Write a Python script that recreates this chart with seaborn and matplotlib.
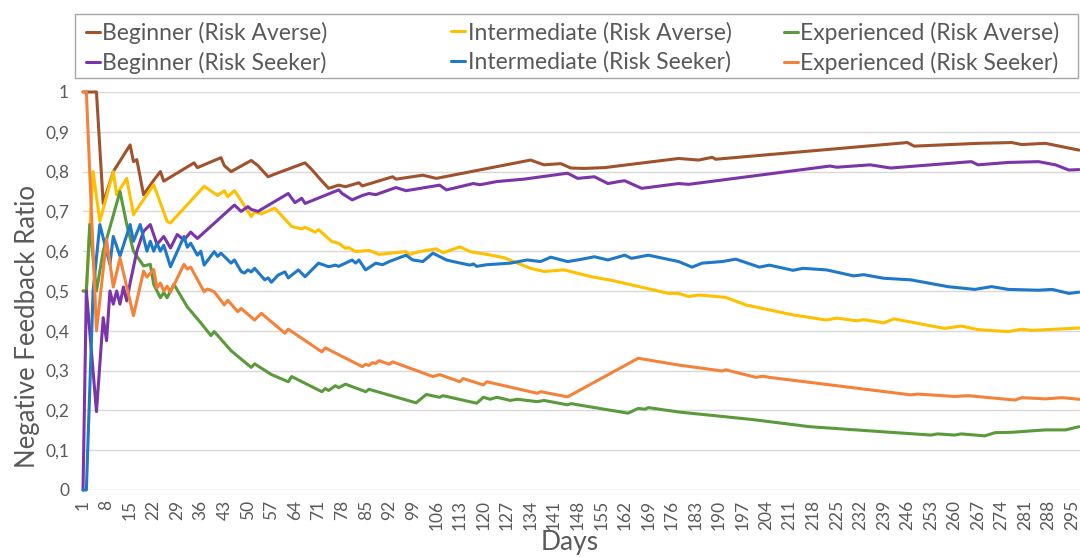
import matplotlib
matplotlib.use("Agg")
import matplotlib.pyplot as plt
from matplotlib.lines import Line2D
from matplotlib.patches import Rectangle
import pandas as pd
import seaborn as sns

# Beginner (Risk Averse)
beg_ra_days = [1, 5, 7, 10, 15, 16, 17, 19, 22, 24, 25, 34, 35, 42, 43, 45, 51, 53, 56, 59,
               67, 69, 72, 74, 77, 79, 83, 84, 93, 94, 102, 106, 134, 135, 138, 143, 146, 150,
               156, 178, 184, 188, 189, 246, 248, 267, 277, 280, 287, 290, 297]
beg_ra_vals = [1.0, 1.0, 0.72, 0.80, 0.867, 0.825, 0.83, 0.742, 0.778, 0.80, 0.776, 0.822, 0.81,
               0.835, 0.815, 0.80, 0.828, 0.815, 0.787, 0.797, 0.822, 0.805, 0.776, 0.758, 0.766,
               0.762, 0.772, 0.764, 0.787, 0.781, 0.791, 0.783, 0.829, 0.826, 0.817, 0.82, 0.809,
               0.808, 0.81, 0.833, 0.829, 0.836, 0.831, 0.873, 0.864, 0.871, 0.873, 0.868, 0.871,
               0.866, 0.854]

# Intermediate (Risk Averse)
int_ra_days = [1, 2, 4, 6, 10, 11, 14, 16, 22, 26, 27, 37, 41, 43, 44, 46, 47, 51, 52, 54, 58,
               59, 63, 66, 67, 70, 71, 75, 77, 79, 80, 82, 86, 89, 97, 98, 101, 106, 108, 113,
               116, 121, 126, 134, 138, 144, 152, 158, 175, 178, 181, 184, 192, 198, 212, 222,
               225, 231, 233, 239, 242, 257, 262, 267, 276, 280, 283, 297]
int_ra_vals = [0.5, 0.5, 0.8, 0.675, 0.8, 0.742, 0.783, 0.692, 0.767, 0.675, 0.671, 0.763, 0.74,
               0.752, 0.737, 0.752, 0.74, 0.687, 0.698, 0.694, 0.708, 0.699, 0.662, 0.656, 0.66,
               0.648, 0.654, 0.624, 0.62, 0.607, 0.609, 0.599, 0.602, 0.592, 0.599, 0.592, 0.599,
               0.606, 0.596, 0.611, 0.599, 0.592, 0.584, 0.557, 0.549, 0.553, 0.536, 0.527, 0.494,
               0.494, 0.486, 0.49, 0.484, 0.465, 0.44, 0.427, 0.432, 0.425, 0.428, 0.42, 0.43,
               0.406, 0.412, 0.403, 0.398, 0.404, 0.401, 0.407]

# Experienced (Risk Averse)
exp_ra_days = [1, 2, 3, 5, 7, 12, 14, 16, 19, 21, 22, 24, 25, 26, 28, 32, 36, 39, 40, 45, 51,
               52, 57, 62, 63, 72, 73, 74, 76, 77, 79, 85, 86, 100, 103, 107, 108, 118, 120, 122,
               124, 128, 130, 136, 138, 145, 146, 163, 166, 168, 169, 178, 200, 217, 253, 255,
               260, 262, 269, 272, 277, 287, 293, 297]
exp_ra_vals = [0.5, 0.5, 0.667, 0.5, 0.6, 0.75, 0.667, 0.6, 0.563, 0.567, 0.517, 0.483, 0.496,
               0.483, 0.517, 0.46, 0.42, 0.388, 0.398, 0.35, 0.308, 0.317, 0.29, 0.272, 0.285,
               0.247, 0.255, 0.25, 0.262, 0.257, 0.266, 0.247, 0.253, 0.219, 0.24, 0.233, 0.237,
               0.218, 0.233, 0.228, 0.233, 0.225, 0.228, 0.222, 0.225, 0.214, 0.217, 0.193, 0.205,
               0.203, 0.207, 0.196, 0.177, 0.159, 0.138, 0.141, 0.138, 0.141, 0.136, 0.144, 0.145,
               0.151, 0.151, 0.159]

# Beginner (Risk Seeker)
beg_rs_days = [1, 2, 5, 7, 8, 9, 10, 11, 12, 13, 14, 15, 17, 19, 21, 23, 25, 27, 29, 31, 33, 35,
               46, 48, 50, 51, 53, 62, 64, 66, 67, 77, 78, 81, 84, 86, 88, 94, 97, 107, 109, 117,
               119, 124, 132, 145, 148, 153, 157, 161, 162, 167, 169, 178, 181, 223, 225, 235,
               241, 265, 267, 276, 285, 290, 294, 297]
beg_rs_vals = [0.0, 0.5, 0.197, 0.433, 0.375, 0.5, 0.467, 0.5, 0.467, 0.51, 0.475, 0.52, 0.6,
               0.65, 0.667, 0.617, 0.637, 0.608, 0.642, 0.628, 0.648, 0.632, 0.716, 0.70, 0.712,
               0.705, 0.70, 0.745, 0.722, 0.733, 0.72, 0.754, 0.745, 0.729, 0.74, 0.745, 0.742,
               0.76, 0.752, 0.766, 0.754, 0.77, 0.767, 0.775, 0.781, 0.796, 0.783, 0.787, 0.77,
               0.776, 0.777, 0.758, 0.76, 0.77, 0.768, 0.814, 0.811, 0.817, 0.809, 0.825, 0.817,
               0.823, 0.825, 0.817, 0.804, 0.805]

# Intermediate (Risk Seeker)
int_rs_days = [1, 2, 4, 6, 9, 10, 12, 15, 16, 18, 20, 21, 22, 23, 24, 25, 27, 31, 32, 33, 35, 36,
               37, 40, 41, 42, 45, 46, 48, 49, 50, 51, 52, 55, 56, 57, 59, 61, 62, 65, 67, 71, 74,
               76, 77, 81, 82, 83, 85, 88, 90, 92, 97, 99, 102, 105, 109, 111, 116, 117, 118, 121,
               128, 133, 137, 140, 145, 148, 153, 157, 162, 164, 169, 178, 182, 185, 191, 195,
               202, 205, 212, 215, 222, 230, 233, 239, 247, 258, 266, 271, 276, 285, 289, 294, 297]
int_rs_vals = [0.0, 0.0, 0.5, 0.667, 0.567, 0.637, 0.588, 0.667, 0.625, 0.667, 0.6, 0.625, 0.6,
               0.62, 0.6, 0.615, 0.561, 0.637, 0.61, 0.62, 0.59, 0.6, 0.565, 0.599, 0.587, 0.595,
               0.57, 0.578, 0.549, 0.545, 0.553, 0.548, 0.557, 0.528, 0.533, 0.522, 0.54, 0.548,
               0.533, 0.553, 0.536, 0.57, 0.561, 0.565, 0.562, 0.578, 0.57, 0.578, 0.553, 0.57,
               0.566, 0.574, 0.59, 0.578, 0.574, 0.595, 0.578, 0.574, 0.565, 0.568, 0.562, 0.566,
               0.57, 0.578, 0.574, 0.585, 0.574, 0.578, 0.586, 0.578, 0.59, 0.582, 0.59, 0.574,
               0.56, 0.57, 0.574, 0.58, 0.56, 0.565, 0.552, 0.557, 0.553, 0.538, 0.541, 0.532,
               0.528, 0.511, 0.504, 0.511, 0.504, 0.502, 0.504, 0.494, 0.497]

# Experienced (Risk Seeker)
exp_rs_days = [1, 2, 5, 8, 10, 12, 16, 19, 20, 22, 23, 24, 25, 26, 27, 31, 32, 33, 37, 38, 40,
               43, 44, 47, 48, 52, 54, 61, 62, 72, 73, 84, 85, 86, 87, 88, 89, 92, 93, 105, 107,
               113, 114, 120, 121, 136, 137, 145, 166, 178, 191, 192, 201, 203, 205, 247, 249,
               253, 260, 264, 278, 280, 287, 292, 297]
exp_rs_vals = [1.0, 1.0, 0.4, 0.63, 0.51, 0.583, 0.438, 0.55, 0.535, 0.554, 0.508, 0.52, 0.5,
               0.512, 0.497, 0.567, 0.555, 0.56, 0.498, 0.505, 0.498, 0.465, 0.477, 0.448, 0.456,
               0.427, 0.444, 0.394, 0.404, 0.347, 0.357, 0.31, 0.316, 0.313, 0.32, 0.318, 0.325,
               0.316, 0.322, 0.285, 0.29, 0.272, 0.28, 0.264, 0.272, 0.243, 0.247, 0.234, 0.331,
               0.314, 0.299, 0.302, 0.283, 0.286, 0.283, 0.239, 0.241, 0.239, 0.235, 0.237, 0.226,
               0.232, 0.229, 0.232, 0.228]

series_names = ["Beginner (Risk Averse)", "Intermediate (Risk Averse)", "Experienced (Risk Averse)",
                "Beginner (Risk Seeker)", "Intermediate (Risk Seeker)", "Experienced (Risk Seeker)"]
series_colors = ["#A0522D", "#FFC000", "#5B9A3C", "#7A35A8", "#1F78C8", "#F5823A"]
series_data = [(beg_ra_days, beg_ra_vals), (int_ra_days, int_ra_vals), (exp_ra_days, exp_ra_vals),
               (beg_rs_days, beg_rs_vals), (int_rs_days, int_rs_vals), (exp_rs_days, exp_rs_vals)]

x_ticks = list(range(1, 296, 7))
x_tick_labels = [str(d) for d in x_ticks]
y_ticks = [0, 0.1, 0.2, 0.3, 0.4, 0.5, 0.6, 0.7, 0.8, 0.9, 1.0]
y_tick_labels = ["0", "0,1", "0,2", "0,3", "0,4", "0,5", "0,6", "0,7", "0,8", "0,9", "1"]

df = pd.concat(
    [pd.DataFrame({"day": d, "ratio": v, "series": name})
     for name, (d, v) in zip(series_names, series_data)],
    ignore_index=True,
)

sns.set_theme(style="white")
plt.rcParams["font.family"] = ["Lato", "DejaVu Sans"]
text_color = "#595959"
W, H = 1080, 557

fig = plt.figure(figsize=(10.8, 5.57), dpi=100)
ax = fig.add_axes([83 / W, 1 - 490 / H, 1 - 83 / W, 398 / H])

sns.lineplot(data=df, x="day", y="ratio", hue="series", hue_order=series_names,
             palette=series_colors, estimator=None, linewidth=2.2, legend=False, ax=ax)
for line in ax.lines:
    line.set_clip_on(False)
    line.set_solid_joinstyle("round")

ax.set_xlim(1, 297.3)
ax.set_ylim(0, 1)
ax.set_xticks(x_ticks)
ax.set_xticklabels(x_tick_labels, rotation=90)
ax.set_yticks(y_ticks)
ax.set_yticklabels(y_tick_labels)
ax.tick_params(axis="both", length=0, colors=text_color, labelsize=12.5)
ax.tick_params(axis="y", pad=10)
ax.tick_params(axis="x", pad=7)
ax.yaxis.grid(True, color="#D9D9D9", linewidth=1)
ax.xaxis.grid(False)
ax.set_axisbelow(True)
for side in ax.spines.values():
    side.set_visible(False)

ax.set_xlabel("Days", fontsize=19, color=text_color)
ax.set_ylabel("Negative Feedback Ratio", fontsize=18.5, color=text_color)
ax.xaxis.set_label_coords(0.488, -0.1)
ax.yaxis.set_label_coords(-0.043, 0.41)

# legend: three single-column blocks inside one frame, rows are averse / seeker
fig.patches.append(Rectangle((75 / W, 1 - 78 / H), 1003 / W, 64 / H, transform=fig.transFigure,
                             facecolor="white", edgecolor="#A6A6A6", linewidth=1, zorder=0))
col_x = [86, 451, 784]
for j, x0 in enumerate(col_x):
    idx = [j, j + 3]
    handles = [Line2D([], [], color=series_colors[i], linewidth=2.2) for i in idx]
    leg = fig.legend(handles, [series_names[i] for i in idx], loc="upper left",
                     bbox_to_anchor=(x0 / W, 1 - 22 / H), borderpad=0, borderaxespad=0,
                     fontsize=16.5, handlelength=0.6, handletextpad=0.12, labelspacing=0.33,
                     frameon=False, labelcolor=text_color)

fig.savefig("out.png", dpi=100)
